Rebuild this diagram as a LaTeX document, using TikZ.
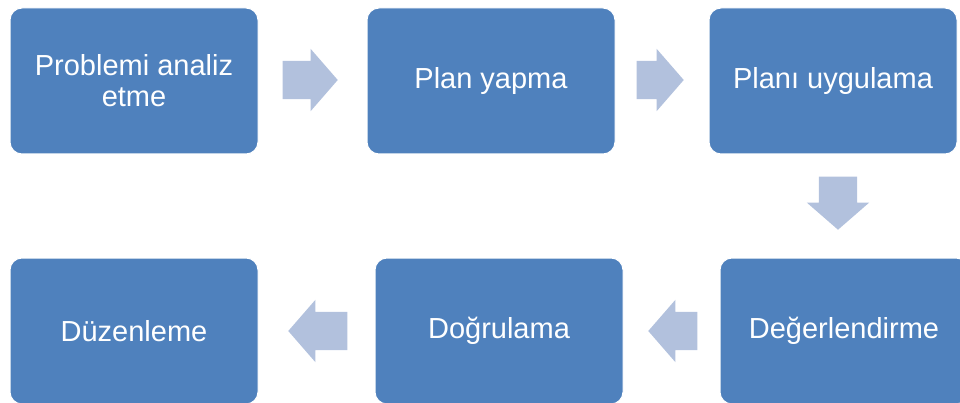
\documentclass[tikz,border=0pt]{standalone}
\usepackage{fontspec}
\setmainfont{Liberation Sans}
\usetikzlibrary{shapes.arrows}

\definecolor{boxblue}{HTML}{4F81BD}
\definecolor{arrowblue}{HTML}{B2C1DD}

\tikzset{
	stepbox/.style={draw=white, line width=1pt, fill=boxblue, rounded corners=12pt,
		minimum width=248pt, minimum height=146pt, inner sep=0pt,
		text=white, align=center, font=\fontsize{29}{31}\selectfont},
	blockarrow/.style={single arrow, fill=arrowblue, draw=none, inner xsep=0pt, inner ysep=19pt,
		minimum width=62pt, single arrow head extend=12pt, single arrow tip angle=98, anchor=tip}
}

\begin{document}
\begin{tikzpicture}[x=1pt,y=-1pt]
		\useasboundingbox (0,0) rectangle (960,403);
		\clip (0,0) rectangle (960,403);

		\node[stepbox] (analiz) at (134,81) {Problemi analiz\\etme};
		\node[stepbox] (plan) at (491,81) {Plan yapma};
		\node[stepbox] (uygula) at (833,81) {Planı uygulama};
		\node[stepbox] (deger) at (844,331) {Değerlendirme};
		\node[stepbox] (dogru) at (499,331) {Doğrulama};
		\node[stepbox] (duzen) at (134,331) {Düzenleme};

		\node[blockarrow, minimum height=55pt] (a1) at (338,80) {};
		\node[blockarrow, minimum height=47pt] (a2) at (684,80) {};
		\node[blockarrow, minimum height=53pt, rotate=270] (a3) at (838,230) {};
		\node[blockarrow, minimum height=49pt, rotate=180] (a4) at (648,331) {};
		\node[blockarrow, minimum height=59pt, rotate=180] (a5) at (288,331) {};
	\end{tikzpicture}
\end{document}
